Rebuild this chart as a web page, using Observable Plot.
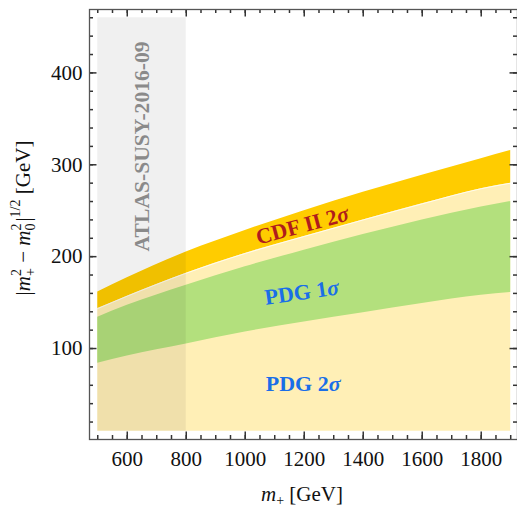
<!DOCTYPE html>
<html><head><meta charset="utf-8">
<script src="https://cdn.jsdelivr.net/npm/d3@7"></script>
<script src="https://cdn.jsdelivr.net/npm/@observablehq/plot@0.6"></script>
<style>body{margin:0;background:#fff}</style>
</head><body><div id="chart"></div>
<script>
// m_+ [GeV]
const mass      = [500, 600, 800, 1000, 1200, 1400, 1600, 1800, 1900];
// |m+^2 - m0^2|^(1/2) [GeV]
const cdfUpper  = [161.5, 177, 205, 228.5, 250, 270, 288.5, 306.5, 315.5];
const cdfLower  = [143.5, 157, 182, 203.5, 222, 240, 257.5, 274, 280];
const pdg1Upper = [134, 147, 169, 189, 207, 224, 240, 254, 260];
const pdg1Lower = [84, 92, 105, 118, 129, 139, 149, 158, 161];
const pdg2Upper = [143.5, 157, 182, 203.5, 222, 240, 257.5, 274, 280];
const pdg2Lower = [10, 10, 10, 10, 10, 10, 10, 10, 10];
// excluded region (ATLAS-SUSY-2016-09)
const atlasMass  = [500, 800];
const atlasSplit = [10, 460];
// ticks
const xTicks = [600, 800, 1000, 1200, 1400, 1600, 1800];
const yTicks = [100, 200, 300, 400];
const xMinor = d3.range(500, 1901, 50);
const yMinor = d3.range(20, 461, 20);
// in-plot labels
const labelName  = ["CDF II 2", "PDG 1", "PDG 2"];
const labelMass  = [1195, 1193, 1198];
const labelSplit = [234, 161, 61.5];
const labelAngle = [-15, -8, 0];
const labelColor = ["#b01c1c", "#1a6ee8", "#1a6ee8"];

const rows = mass.map((m, i) => ({
  m, cdfU: cdfUpper[i], cdfL: cdfLower[i],
  p1U: pdg1Upper[i], p1L: pdg1Lower[i],
  p2U: pdg2Upper[i], p2L: pdg2Lower[i]
}));
const atlas = [{x1: atlasMass[0], x2: atlasMass[1], y1: atlasSplit[0], y2: atlasSplit[1]}];

const W = 517, H = 508, ML = 89, MR = 0, MT = 9, MB = 69;
const fw = W - ML - MR, fh = H - MT - MB;
const xDom = [472, 1923], yDom = [1, 469];
// tick lengths (px) converted to data units
const kx = (xDom[1] - xDom[0]) / fw, ky = (yDom[1] - yDom[0]) / fh;
const majLen = 7.5, minLen = 4;
const curve = "monotone-x";
const tk = {stroke: "#333", strokeWidth: 1.5};
const serif = "'Liberation Serif', 'Times New Roman', serif";

const plot = Plot.plot({
  width: W, height: H,
  marginLeft: ML, marginRight: MR, marginTop: MT, marginBottom: MB,
  style: {fontFamily: serif, fontSize: "21px", background: "white", color: "#111"},
  x: {domain: xDom, label: null},
  y: {domain: yDom, label: null},
  marks: [
    Plot.areaY(rows, {x: "m", y1: "p2L", y2: "p2U", fill: "#FFEFB6", curve}),
    Plot.areaY(rows, {x: "m", y1: "p1L", y2: "p1U", fill: "#B3E07D", curve}),
    Plot.areaY(rows, {x: "m", y1: "cdfL", y2: "cdfU", fill: "#FFCC00", curve}),
    Plot.lineY(rows, {x: "m", y: "cdfL", stroke: "white", strokeWidth: 0.8, curve}),
    Plot.rect(atlas, {x1: "x1", x2: "x2", y1: "y1", y2: "y2", fill: "black", fillOpacity: 0.06}),
    Plot.text(["ATLAS-SUSY-2016-09"], {x: (atlasMass[0] + atlasMass[1]) / 2, y: 320, text: d => d, rotate: -90,
      fill: "#8a8a8a", fontWeight: "bold", fontSize: 21.6}),
    // inward ticks
    Plot.ruleX(xTicks, {x: d => d, y1: yDom[0], y2: yDom[0] + majLen * ky, ...tk}),
    Plot.ruleX(xMinor, {x: d => d, y1: yDom[0], y2: yDom[0] + minLen * ky, ...tk}),
    Plot.ruleX(xTicks, {x: d => d, y1: yDom[1], y2: yDom[1] - majLen * ky, ...tk}),
    Plot.ruleX(xMinor, {x: d => d, y1: yDom[1], y2: yDom[1] - minLen * ky, ...tk}),
    Plot.ruleY(yTicks, {y: d => d, x1: xDom[0], x2: xDom[0] + majLen * kx, ...tk}),
    Plot.ruleY(yMinor, {y: d => d, x1: xDom[0], x2: xDom[0] + minLen * kx, ...tk}),
    Plot.ruleY(yTicks, {y: d => d, x1: xDom[1], x2: xDom[1] - majLen * kx, ...tk}),
    Plot.ruleY(yMinor, {y: d => d, x1: xDom[1], x2: xDom[1] - minLen * kx, ...tk}),
    Plot.frame({stroke: "#555", strokeWidth: 1.3}),
    // tick labels
    Plot.axisX(xTicks, {anchor: "bottom", tickSize: 0, tickPadding: 12, fontSize: 21, tickFormat: d => String(d), label: null}),
    Plot.axisY(yTicks, {anchor: "left", tickSize: 0, tickPadding: 7, fontSize: 21, tickFormat: d => String(d), label: null})
  ]
});

const svg = d3.select(plot);
const sx = plot.scale("x"), sy = plot.scale("y");

// band labels with italic sigma
labelName.forEach((name, i) => {
  const px = sx.apply(labelMass[i]), py = sy.apply(labelSplit[i]);
  const t = svg.append("text")
    .attr("transform", `translate(${px},${py}) rotate(${labelAngle[i]})`)
    .attr("text-anchor", "middle").attr("dy", "0.35em")
    .attr("font-family", serif).attr("font-weight", "bold")
    .attr("font-size", 22).attr("fill", labelColor[i]);
  t.append("tspan").text(name);
  t.append("tspan").attr("font-style", "italic").text("σ");
});

// x axis title: m_+ [GeV]
const xt = svg.append("text")
  .attr("x", 302).attr("y", 501)
  .attr("text-anchor", "middle")
  .attr("font-family", serif)
  .attr("font-size", 21).attr("fill", "#111");
xt.append("tspan").attr("font-style", "italic").text("m");
xt.append("tspan").attr("font-size", 14).attr("dy", 4).text("+");
xt.append("tspan").attr("dy", -4).text(" [GeV]");

// y axis title: |m_+^2 - m_0^2|^{1/2} [GeV]
const yt = svg.append("text")
  .attr("transform", "translate(30,218) rotate(-90)")
  .attr("text-anchor", "middle")
  .attr("font-family", serif)
  .attr("font-size", 21).attr("fill", "#111");
yt.append("tspan").text("|");
yt.append("tspan").attr("font-style", "italic").text("m");
yt.append("tspan").attr("font-size", 14).attr("dy", -9).text("2");
yt.append("tspan").attr("font-size", 14).attr("dx", -7).attr("dy", 14).text("+");
yt.append("tspan").attr("dy", -5).text(" − ");
yt.append("tspan").attr("font-style", "italic").text("m");
yt.append("tspan").attr("font-size", 14).attr("dy", -9).text("2");
yt.append("tspan").attr("font-size", 14).attr("dx", -7).attr("dy", 14).text("0");
yt.append("tspan").attr("dy", -5).attr("dx", 2).text("|");
yt.append("tspan").attr("font-size", 14).attr("dy", -10).text("1/2");
yt.append("tspan").attr("dy", 10).text(" [GeV]");

document.getElementById("chart").appendChild(plot);
</script>
</body></html>
